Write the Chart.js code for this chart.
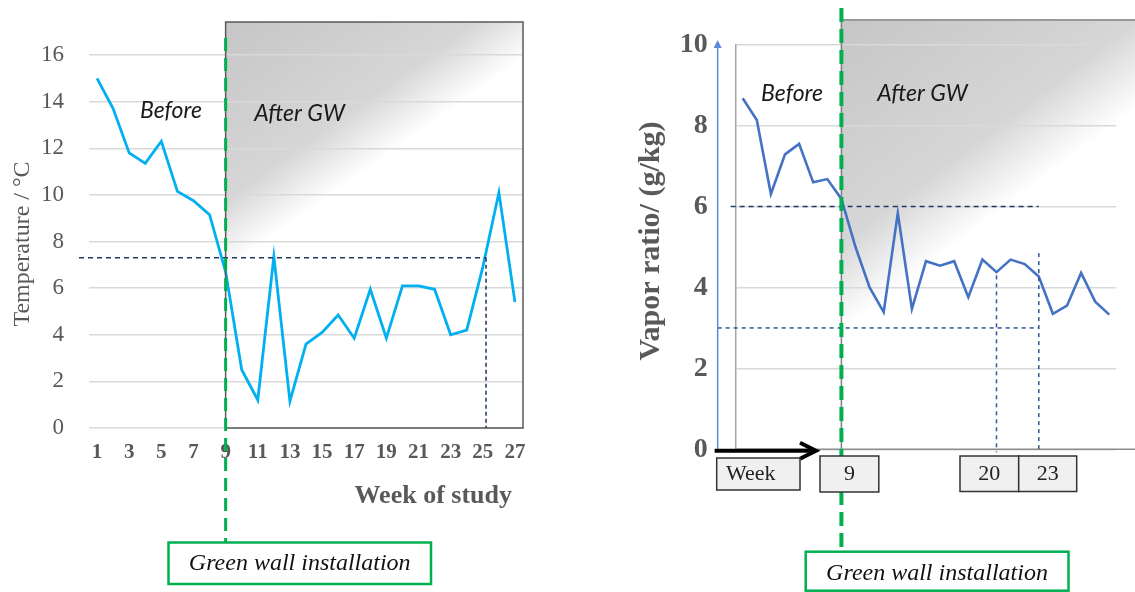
<!DOCTYPE html>
<html>
<head>
<meta charset="utf-8">
<script src="https://cdn.jsdelivr.net/npm/chart.js@4.4.0/dist/chart.umd.min.js"></script>
<style>
  html, body { margin: 0; padding: 0; background: #fff; }
  body { width: 1135px; height: 592px; position: relative; overflow: hidden; }
  #temp-wrap { position: absolute; left: 0; top: 0; width: 570px; height: 592px; }
  #vapor-wrap { position: absolute; left: 570px; top: 0; width: 565px; height: 592px; }
</style>
</head>
<body>
<div id="temp-wrap"><canvas id="temp-chart" width="570" height="592"></canvas></div>
<div id="vapor-wrap"><canvas id="vapor-chart" width="565" height="592"></canvas></div>
<script>
// --- DATOS ---
const weeks = [1, 2, 3, 4, 5, 6, 7, 8, 9, 10, 11, 12, 13, 14, 15, 16, 17, 18, 19, 20, 21, 22, 23, 24, 25, 26, 27];
const weekTicks = [1, 3, 5, 7, 9, 11, 13, 15, 17, 19, 21, 23, 25, 27];
const temperature = [15.0, 13.7, 11.8, 11.35, 12.3, 10.15, 9.75, 9.15, 6.7, 2.5, 1.2, 7.35, 1.15, 3.6,
                     4.1, 4.85, 3.85, 5.95, 3.85, 6.1, 6.1, 5.95, 4.0, 4.2, 6.9, 10.1, 5.4];

const vaporWeeks = [2, 3, 4, 5, 6, 7, 8, 9, 10, 11, 12, 13, 14, 15, 16, 17, 18, 19, 20, 21, 22, 23, 24, 25, 26, 27, 28];
const vaporRatio = [8.68, 8.14, 6.31, 7.29, 7.55, 6.6, 6.68, 6.19, 5.0, 4.0, 3.39, 5.84, 3.47, 4.65,
                    4.54, 4.65, 3.76, 4.69, 4.38, 4.69, 4.58, 4.27, 3.35, 3.55, 4.36, 3.65, 3.33];

// Marcas de referencia
const installWeek = 9;
const tempRef = 7.3;
const tempRefWeek = 25.2;
const vaporRefs = [6, 3];
const markWeeks = [20, 23];
const markTops = [4.3, 4.85];

// --- ESTILOS ---
const serif = '"Liberation Serif", "Times New Roman", serif';
const sans = 'Lato, "Liberation Sans", sans-serif';
const gris = '#595959';
const verde = '#00b050';
const azulOscuro = '#1f3864';
const azulMedio = '#2f5597';

// --- AYUDANTES DE DIBUJO ---
function linea(ctx, x1, y1, x2, y2, color, ancho, dash) {
    ctx.save();
    ctx.strokeStyle = color;
    ctx.lineWidth = ancho;
    ctx.setLineDash(dash || []);
    ctx.beginPath();
    ctx.moveTo(x1, y1);
    ctx.lineTo(x2, y2);
    ctx.stroke();
    ctx.restore();
}

function caja(ctx, x, y, w, h, borde, fondo, ancho) {
    ctx.save();
    ctx.fillStyle = fondo;
    ctx.fillRect(x, y, w, h);
    ctx.strokeStyle = borde;
    ctx.lineWidth = ancho;
    ctx.strokeRect(x, y, w, h);
    ctx.restore();
}

function texto(ctx, str, x, y, font, color, align, rot) {
    ctx.save();
    ctx.translate(x, y);
    if (rot) ctx.rotate(rot);
    ctx.font = font;
    ctx.fillStyle = color;
    ctx.textAlign = align || 'center';
    ctx.textBaseline = 'middle';
    ctx.fillText(str, 0, 0);
    ctx.restore();
}

// sombreado gris que se desvanece en diagonal
function degradado(ctx, x, y, w, h, dx, dy) {
    const g = ctx.createLinearGradient(x, y, x + dx, y + dy);
    g.addColorStop(0, '#c6c6c6');
    g.addColorStop(0.72, '#d6d6d6');
    g.addColorStop(1, '#ffffff');
    ctx.save();
    ctx.fillStyle = g;
    ctx.fillRect(x, y, w, h);
    ctx.restore();
}

// --- GRÁFICO DE TEMPERATURA ---
const anotacionesTemp = {
    id: 'anotacionesTemp',
    beforeDraw(chart) {
        const { ctx, chartArea, scales: { x } } = chart;
        const left = x.getPixelForValue(installWeek);
        const top = chartArea.top - 33;
        degradado(ctx, left, top, chartArea.right - left, chartArea.bottom - top, 117, 165);
    },
    afterDraw(chart) {
        const { ctx, chartArea, scales: { x, y } } = chart;
        const left = x.getPixelForValue(installWeek);
        const top = chartArea.top - 33;

        ctx.save();
        ctx.strokeStyle = '#595959';
        ctx.lineWidth = 1.5;
        ctx.strokeRect(left, top, chartArea.right - left, chartArea.bottom - top);
        ctx.restore();

        const yRef = y.getPixelForValue(tempRef);
        const xRef = x.getPixelForValue(tempRefWeek);
        linea(ctx, chartArea.left - 10, yRef, xRef, yRef, azulOscuro, 1.5, [5, 4]);
        linea(ctx, xRef, yRef, xRef, chartArea.bottom, azulOscuro, 1.5, [4, 3]);

        texto(ctx, 'Before', x.getPixelForValue(5.6), y.getPixelForValue(13.6), 'italic 23px ' + sans, '#1a1a1a');
        texto(ctx, 'After GW', x.getPixelForValue(13.6), y.getPixelForValue(13.5), 'italic 23px ' + sans, '#1a1a1a');

        texto(ctx, 'Temperature / °C', 23, 244, '24px ' + serif, gris, 'center', -Math.PI / 2);
        texto(ctx, 'Week of study', 512, 496, 'bold 26px ' + serif, gris, 'right');

        linea(ctx, left, 38, left, 542, verde, 3, [13, 7]);
        caja(ctx, 168.5, 542.5, 262.5, 41.5, verde, '#fff', 2.5);
        texto(ctx, 'Green wall installation', 299.7, 564, 'italic 24px ' + serif, '#111');
    }
};

new Chart(document.getElementById('temp-chart'), {
    type: 'line',
    data: {
        datasets: [{
            data: weeks.map((w, i) => ({ x: w, y: temperature[i] })),
            borderColor: '#00b0f0',
            borderWidth: 2.8,
            pointRadius: 0,
            tension: 0
        }]
    },
    options: {
        responsive: false,
        animation: false,
        devicePixelRatio: 1,
        layout: { padding: { left: 0, right: 47, top: 55, bottom: 124 } },
        plugins: { legend: { display: false }, tooltip: { enabled: false } },
        scales: {
            x: {
                type: 'linear',
                min: 0.5,
                max: 27.5,
                afterBuildTicks: ax => { ax.ticks = weekTicks.map(v => ({ value: v })); },
                afterFit: ax => { ax.height = 40; },
                grid: { display: false, drawTicks: false },
                border: { display: false },
                ticks: { font: { family: serif, size: 21, weight: 'bold' }, color: gris, padding: 12, autoSkip: false, maxRotation: 0 }
            },
            y: {
                min: 0,
                max: 16,
                afterFit: ax => { ax.width = 89; },
                grid: { color: '#d9d9d9', lineWidth: 1.5, drawTicks: false },
                border: { display: false },
                ticks: { stepSize: 2, font: { family: serif, size: 23 }, color: gris, padding: 25 }
            }
        }
    },
    plugins: [anotacionesTemp]
});

// --- GRÁFICO DE RAZÓN DE VAPOR ---
const anotacionesVapor = {
    id: 'anotacionesVapor',
    beforeDraw(chart) {
        const { ctx, chartArea, scales: { x } } = chart;
        const left = x.getPixelForValue(installWeek);
        degradado(ctx, left, 20, chart.width - left, chartArea.bottom - 20, 150, 198);
    },
    afterDraw(chart) {
        const { ctx, chartArea, scales: { x, y } } = chart;
        const left = x.getPixelForValue(installWeek);
        const ejeX = chartArea.left - 18;

        // bordes del recuadro y eje inferior
        linea(ctx, left, 20, chart.width, 20, '#999999', 2);
        linea(ctx, left, 20, left, chartArea.bottom, '#7f7f7f', 1.5);
        linea(ctx, chartArea.left, chartArea.bottom, chart.width, chartArea.bottom, '#8c8c8c', 1.5);

        // referencias discontinuas
        const xFin = x.getPixelForValue(markWeeks[1]);
        linea(ctx, chartArea.left - 5, y.getPixelForValue(vaporRefs[0]), xFin, y.getPixelForValue(vaporRefs[0]), azulOscuro, 1.5, [5, 4]);
        linea(ctx, ejeX, y.getPixelForValue(vaporRefs[1]), xFin, y.getPixelForValue(vaporRefs[1]), azulMedio, 1.5, [4, 4]);
        markWeeks.forEach((w, i) => {
            const xm = x.getPixelForValue(w);
            linea(ctx, xm, y.getPixelForValue(markTops[i]), xm, chartArea.bottom + 3, azulMedio, 1.5, [4, 4]);
        });

        // flecha del eje vertical
        linea(ctx, ejeX, chartArea.bottom, ejeX, 46, '#5b8bd9', 1.5);
        ctx.save();
        ctx.fillStyle = '#5b8bd9';
        ctx.beginPath();
        ctx.moveTo(ejeX, 40);
        ctx.lineTo(ejeX - 4, 48);
        ctx.lineTo(ejeX + 4, 48);
        ctx.closePath();
        ctx.fill();
        ctx.restore();

        // flecha negra de semanas
        const yFlecha = chartArea.bottom + 1.5;
        linea(ctx, ejeX - 3, yFlecha, 245, yFlecha, '#000', 4);
        ctx.save();
        ctx.strokeStyle = '#000';
        ctx.lineWidth = 4;
        ctx.beginPath();
        ctx.moveTo(230, yFlecha - 8);
        ctx.lineTo(246, yFlecha);
        ctx.lineTo(230, yFlecha + 8);
        ctx.stroke();
        ctx.restore();

        texto(ctx, 'Before', x.getPixelForValue(5.5), y.getPixelForValue(8.8), 'italic 23px ' + sans, '#1a1a1a');
        texto(ctx, 'After GW', x.getPixelForValue(14.75), y.getPixelForValue(8.8), 'italic 23px ' + sans, '#1a1a1a');

        texto(ctx, 'Vapor ratio/ (g/kg)', 81, 241, 'bold 30px ' + serif, gris, 'center', -Math.PI / 2);

        // línea de instalación
        linea(ctx, left, 8, left, 551, verde, 4, [14, 7]);

        // etiquetas de semana
        caja(ctx, 146.7, 458, 83.3, 32, '#333', '#f0f0f0', 1.5);
        texto(ctx, 'Week', 156, 474, '22px ' + serif, '#222', 'left');
        caja(ctx, 250, 456, 58.8, 36, '#333', '#f0f0f0', 1.5);
        texto(ctx, '9', 279.4, 474, '22px ' + serif, '#222');
        caja(ctx, 390, 456, 58.7, 35.5, '#333', '#f0f0f0', 1.5);
        texto(ctx, '20', 419.3, 474, '22px ' + serif, '#222');
        caja(ctx, 448.7, 456, 58, 35.5, '#333', '#f0f0f0', 1.5);
        texto(ctx, '23', 477.7, 474, '22px ' + serif, '#222');

        caja(ctx, 235.7, 551.7, 262.8, 39, verde, '#fff', 2.5);
        texto(ctx, 'Green wall installation', 367, 573.5, 'italic 24px ' + serif, '#111');
    }
};

new Chart(document.getElementById('vapor-chart'), {
    type: 'line',
    data: {
        datasets: [{
            data: vaporWeeks.map((w, i) => ({ x: w, y: vaporRatio[i] })),
            borderColor: '#4472c4',
            borderWidth: 2.6,
            pointRadius: 0,
            tension: 0
        }]
    },
    options: {
        responsive: false,
        animation: false,
        devicePixelRatio: 1,
        layout: { padding: { left: 0, right: 18.65, top: 38.3, bottom: 142.7 } },
        plugins: { legend: { display: false }, tooltip: { enabled: false } },
        scales: {
            x: { type: 'linear', min: 1.5, max: 28.5, display: false },
            y: {
                min: 0,
                max: 10,
                afterFit: ax => { ax.width = 165.65; },
                grid: { color: '#d9d9d9', lineWidth: 1.5, drawTicks: false },
                border: { display: true, color: '#a6a6a6', width: 1.5 },
                ticks: { stepSize: 2, font: { family: serif, size: 28, weight: 'bold' }, color: gris, padding: 28 }
            }
        }
    },
    plugins: [anotacionesVapor]
});
</script>
</body>
</html>
